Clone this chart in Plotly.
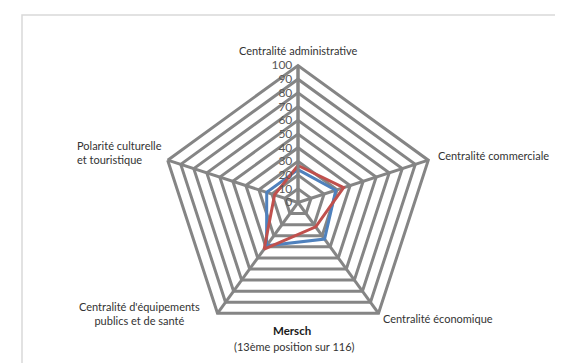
import plotly.graph_objects as go

# Data
categories = ["Centralité administrative", "Centralité commerciale",
              "Centralité économique",
              "Centralité d'équipements publics et de santé",
              "Polarité culturelle et touristique"]
serie_bleue = [24, 29, 33, 39, 24]
serie_rouge = [27, 35, 22, 42, 18]
ticks_r = [0, 10, 20, 30, 40, 50, 60, 70, 80, 90, 100]
titre = "Mersch"
sous_titre = "(13ème position sur 116)"

W, H = 563, 363
FONT = "Lato"
GRID = "#858585"

fig = go.Figure()

# close the polygons
theta = categories + [categories[0]]
fig.add_trace(go.Scatterpolar(r=serie_bleue + [serie_bleue[0]], theta=theta,
                              mode="lines", line=dict(color="#4f81bd", width=3),
                              name="Bleu"))
fig.add_trace(go.Scatterpolar(r=serie_rouge + [serie_rouge[0]], theta=theta,
                              mode="lines", line=dict(color="#c0504d", width=3),
                              name="Rouge"))

cx, cy, R = 290, 194.5, 137
fig.update_layout(
    width=W, height=H,
    paper_bgcolor="white",
    showlegend=False,
    margin=dict(l=0, r=0, t=0, b=0),
    font=dict(family=FONT, color="#404040", size=11),
    polar=dict(
        domain=dict(x=[(cx - R) / W, (cx + R) / W],
                    y=[(H - cy - R) / H, (H - cy + R) / H]),
        gridshape="linear",
        bgcolor="white",
        radialaxis=dict(range=[0, 100], tickvals=ticks_r, angle=90,
                        tickangle=90, side="counterclockwise",
                        showline=True, linecolor=GRID, linewidth=3,
                        gridcolor=GRID, gridwidth=3, ticks="",
                        tickfont=dict(family=FONT, size=12, color="#595959")),
        angularaxis=dict(rotation=90, direction="clockwise",
                         showticklabels=False, ticks="",
                         showline=True, linecolor=GRID, linewidth=3,
                         gridcolor=GRID, gridwidth=3),
    ),
)

# category labels placed around the web
labels = [
    dict(text=categories[0], x=290, y=43, xanchor="center", align="center"),
    dict(text=categories[1], x=428, y=147, xanchor="left", align="left"),
    dict(text=categories[2], x=373, y=310, xanchor="left", align="left"),
    dict(text="Centralité d'équipements<br>publics et de santé",
         x=131, y=305, xanchor="center", align="center"),
    dict(text="Polarité culturelle<br>et touristique",
         x=67, y=145, xanchor="left", align="left"),
]
for lab in labels:
    fig.add_annotation(text=lab["text"], x=lab["x"] / W, y=1 - lab["y"] / H,
                       xref="paper", yref="paper", xanchor=lab["xanchor"],
                       yanchor="middle", align=lab["align"], showarrow=False,
                       font=dict(family=FONT, size=11, color="#333333"))

fig.add_annotation(text="<b>" + titre + "</b>", x=284 / W, y=1 - 331 / H,
                   xref="paper", yref="paper", showarrow=False,
                   font=dict(family=FONT, size=11.5, color="#1a1a1a"))
fig.add_annotation(text=sous_titre, x=286 / W, y=1 - 347 / H,
                   xref="paper", yref="paper", showarrow=False,
                   font=dict(family=FONT, size=11, color="#333333"))

# light frame around the chart
fig.add_shape(type="rect", xref="paper", yref="paper",
              x0=14 / W, x1=558 / W, y0=-0.05, y1=1 - 7 / H,
              line=dict(color="#d9d9d9", width=1.5), fillcolor="rgba(0,0,0,0)")

fig.write_html("out.html")
